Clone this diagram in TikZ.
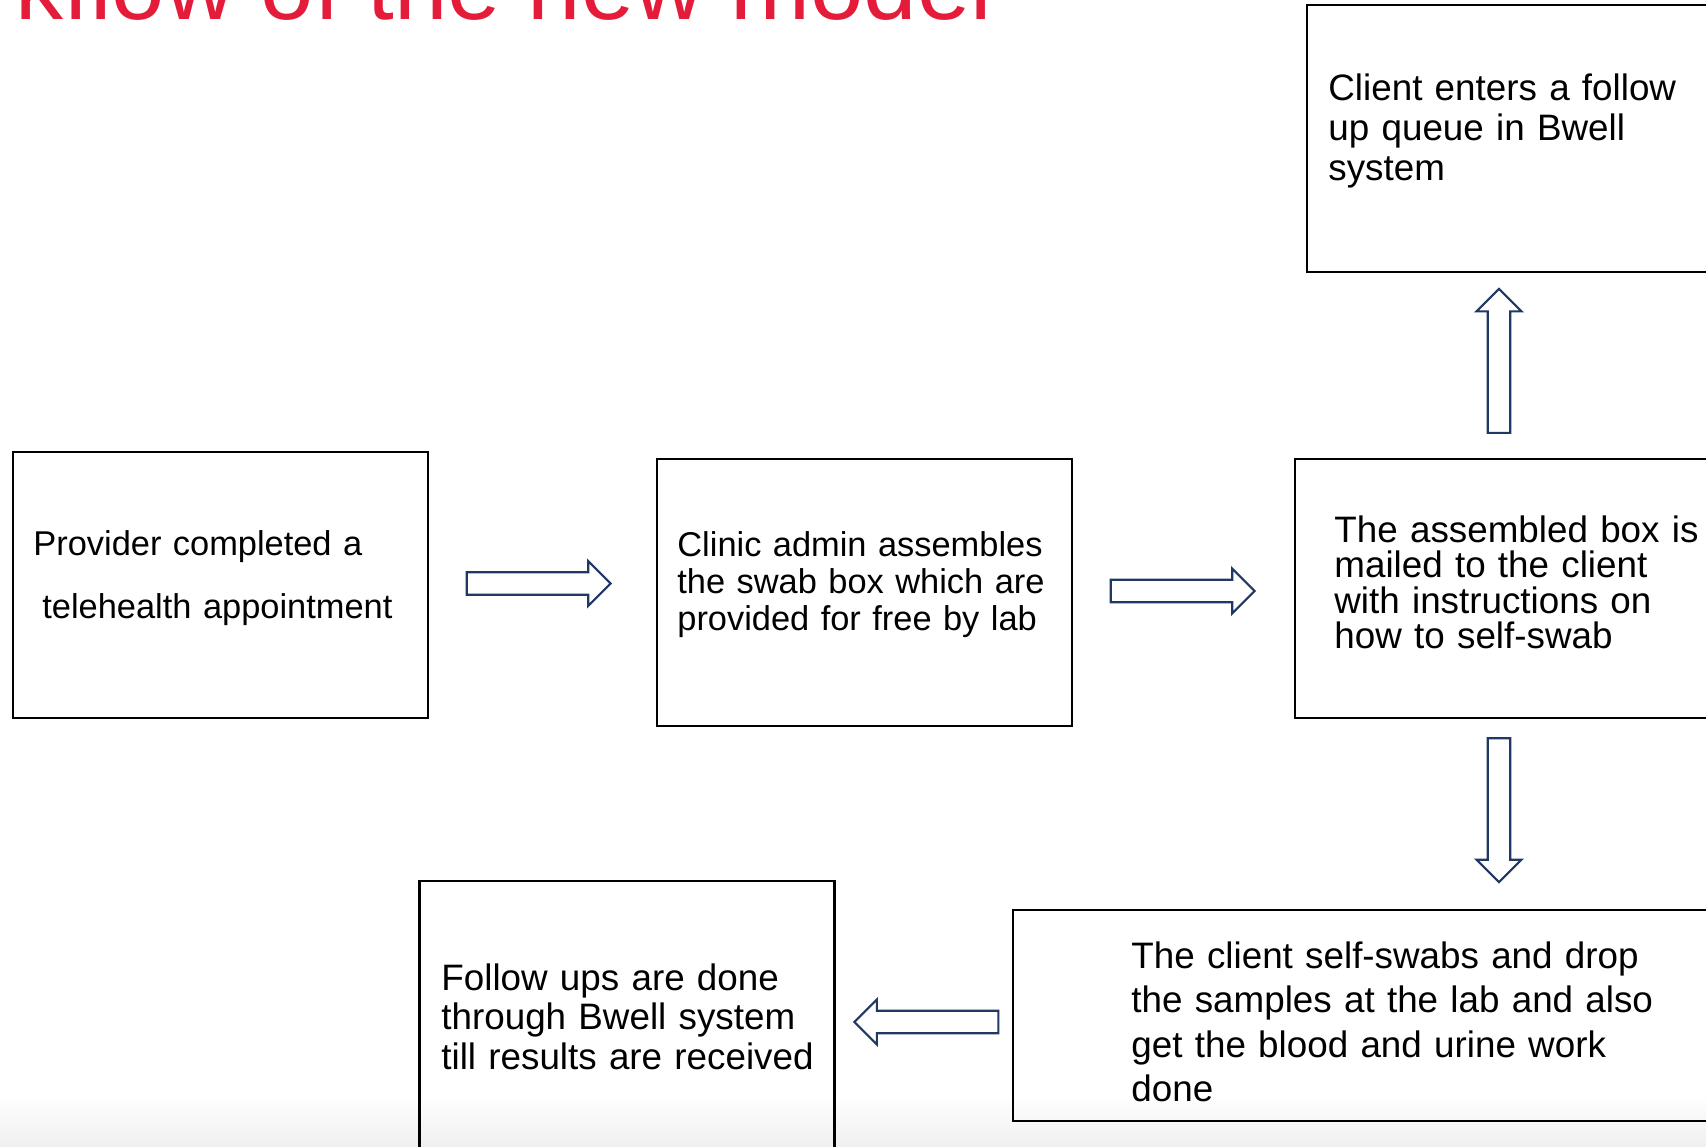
\documentclass[tikz,border=0pt]{standalone}
\usepackage{fontspec}
\setmainfont{Liberation Sans}
\usepackage{tikz}
\usetikzlibrary{shapes.arrows}
\definecolor{titlered}{RGB}{228,28,58}
\definecolor{arrowblue}{RGB}{31,56,100}
\newcommand{\txt}[2]{\fontsize{#1}{#2}\selectfont}

\begin{document}
\begin{tikzpicture}[x=0.5pt, y=-0.5pt,
    box/.style={draw, line width=1.2pt, minimum width=207.5pt, inner sep=0pt},
    boxtext/.style={anchor=base west, align=left, text width=300pt, inner sep=0pt},
    blockarrow/.style={single arrow, draw=arrowblue, fill=white, line width=1.1pt,
        inner sep=5.1pt, minimum height=72pt,
        single arrow head extend=5.6pt}]
    \useasboundingbox (0, 0) rectangle (1706, 1146);
    \clip (0, 0) rectangle (1706, 1146);
    \shade[top color=white, bottom color=black!6] (0, 1095) rectangle (1706, 1146);

    \node (title) [anchor=base west, inner sep=0pt, text=titlered, font=\txt{48}{50}]
        at (-159, 19) {Workflow of the new model};

    % boxes
    \node (provider) [box, minimum height=133pt] at (220.5, 585) {};
    \node (clinic) [box, minimum height=133.5pt] at (864.5, 592.5) {};
    \node (mailed) [box, minimum height=129.5pt] at (1502.5, 588.5) {};
    \node (queue) [box, minimum height=133.5pt] at (1514.5, 138.5) {};
    \node (swab) [box, minimum width=360pt, minimum height=105.5pt] at (1373, 1015.5) {};
    \node (followup) [box, minimum height=150pt] at (627, 1031) {};

    % box texts
    \node (providertext) [boxtext, font=\txt{17.2}{31.5}] at (33, 555)
        {Provider completed a\\\hspace*{4.5pt}telehealth appointment};
    \node (clinictext) [boxtext, font=\txt{17.2}{18.5}] at (677, 556)
        {Clinic admin assembles\\the swab box which are\\provided for free by lab};
    \node (mailedtext) [boxtext, font=\txt{18.4}{17.75}] at (1334, 542)
        {The assembled box is\\mailed to the client\\with instructions on\\how to self-swab};
    \node (queuetext) [boxtext, font=\txt{18.4}{20}] at (1328, 100)
        {Client enters a follow\\up queue in Bwell\\system};
    \node (swabtext) [boxtext, font=\txt{18.4}{22.25}] at (1131, 968)
        {The client self-swabs and drop\\the samples at the lab and also\\get the blood and urine work\\done};
    \node (followuptext) [boxtext, font=\txt{18.4}{19.75}] at (441, 990)
        {Follow ups are done\\through Bwell system\\till results are received};

    % block arrows
    \node (a12) [blockarrow] at (533, 583.5) {};
    \node (a23) [blockarrow] at (1177, 591) {};
    \node (aup) [blockarrow, shape border rotate=90] at (1499, 366.5) {};
    \node (adown) [blockarrow, shape border rotate=270] at (1499, 804.5) {};
    \node (aleft) [blockarrow, shape border rotate=180] at (932, 1022) {};
\end{tikzpicture}
\end{document}
